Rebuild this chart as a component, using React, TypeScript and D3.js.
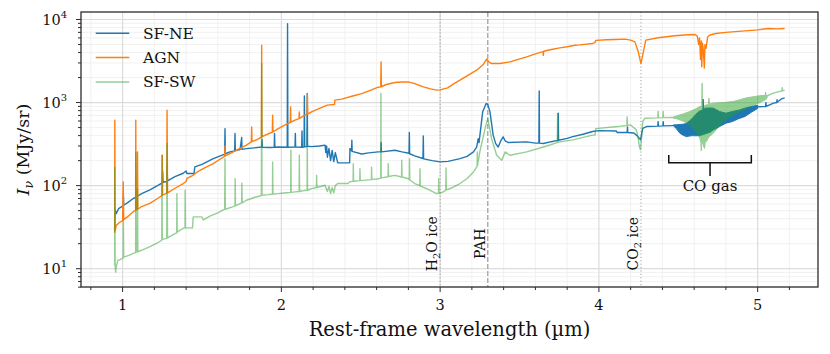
import * as d3 from "d3";

const W = 830;
const H = 354;
const M = { left: 81, right: 818, top: 12, bottom: 287 };
const FONT = "'DejaVu Serif', serif";

// [wavelength (µm), intensity (MJy/sr)]
const sfNE: [number, number][] = [
  [0.95, 38], [0.952, 52], [0.96, 46], [0.975, 53], [0.99, 55], [1.004, 58], [1.005, 75], [1.007, 58],
  [1.03, 62], [1.067, 70], [1.083, 72], [1.084, 100], [1.086, 73], [1.12, 80], [1.172, 89], [1.22, 100],
  [1.25, 108], [1.252, 150], [1.255, 110], [1.278, 112], [1.28, 170], [1.283, 114], [1.33, 128],
  [1.382, 141], [1.4, 150], [1.405, 140], [1.45, 140], [1.455, 168], [1.5, 180], [1.571, 211],
  [1.62, 230], [1.643, 240], [1.645, 486], [1.647, 242], [1.676, 255], [1.706, 262], [1.708, 424],
  [1.71, 264], [1.74, 272], [1.75, 380], [1.752, 273], [1.781, 279], [1.83, 285], [1.876, 292],
  [1.878, 360], [1.88, 290], [1.93, 288], [1.955, 290], [1.957, 424], [1.959, 290], [1.98, 292],
  [2.037, 290], [2.039, 8900], [2.041, 290], [2.086, 292], [2.088, 424], [2.09, 292], [2.128, 290],
  [2.13, 456], [2.132, 290], [2.143, 292], [2.145, 1205], [2.147, 294], [2.161, 295], [2.163, 1283],
  [2.165, 298], [2.19, 295], [2.24, 300], [2.275, 307], [2.28, 250], [2.285, 300], [2.29, 220],
  [2.3, 280], [2.31, 200], [2.32, 265], [2.33, 195], [2.34, 250], [2.355, 188], [2.43, 188],
  [2.432, 280], [2.442, 262], [2.444, 352], [2.446, 258], [2.506, 240], [2.55, 248], [2.61, 255],
  [2.627, 255], [2.628, 330], [2.63, 255], [2.715, 267], [2.76, 255], [2.804, 245], [2.806, 436],
  [2.808, 242], [2.84, 228], [2.892, 212], [2.894, 397], [2.896, 210], [2.95, 200], [3.0, 193],
  [3.05, 196], [3.125, 211], [3.17, 225], [3.21, 255], [3.23, 290], [3.24, 368], [3.245, 330],
  [3.268, 773], [3.29, 973], [3.3, 950], [3.314, 773], [3.334, 405], [3.35, 320], [3.366, 292],
  [3.38, 340], [3.397, 386], [3.41, 345], [3.43, 330], [3.545, 336], [3.6, 325], [3.622, 325],
  [3.624, 1384], [3.626, 325], [3.65, 321], [3.7, 338], [3.742, 350], [3.744, 745], [3.746, 352],
  [3.8, 370], [3.836, 389], [3.9, 415], [3.96, 448], [3.998, 460], [4.11, 455], [4.115, 436],
  [4.178, 436], [4.18, 509], [4.182, 436], [4.22, 430], [4.24, 400], [4.255, 370], [4.262, 356],
  [4.276, 490], [4.3, 514], [4.371, 520], [4.373, 590], [4.375, 520], [4.403, 524], [4.405, 590],
  [4.407, 524], [4.468, 528],
];
const sfNETail: [number, number][] = [
  [5.0, 890], [5.05, 895], [5.052, 1000], [5.054, 900], [5.1, 984], [5.12, 1000], [5.122, 1080],
  [5.124, 1010], [5.15, 1110], [5.17, 1140],
];
// CO gas band: [wavelength, low, high]
const sfNEBand: [number, number, number][] = [
  [4.468, 528, 538], [4.49, 480, 540], [4.51, 427, 545], [4.53, 405, 548], [4.55, 389, 560],
  [4.57, 395, 600], [4.59, 400, 650], [4.61, 398, 720], [4.63, 400, 780], [4.655, 410, 820],
  [4.657, 410, 1100], [4.659, 412, 830], [4.67, 420, 857], [4.7, 440, 860], [4.72, 469, 857],
  [4.74, 490, 820], [4.76, 514, 780], [4.8, 565, 745], [4.84, 590, 780], [4.88, 640, 810],
  [4.92, 680, 857], [4.96, 765, 895], [5.0, 850, 930],
];

const agn: [number, number][] = [
  [0.95, 27], [0.951, 614], [0.953, 29], [0.96, 33], [0.98, 36], [1.0, 38], [1.004, 111], [1.007, 39],
  [1.03, 42], [1.067, 48.6], [1.082, 50], [1.083, 614], [1.085, 51], [1.093, 52], [1.094, 255],
  [1.096, 52], [1.12, 56], [1.172, 61], [1.22, 70], [1.248, 76], [1.25, 232], [1.252, 77], [1.278, 81],
  [1.28, 809], [1.283, 82], [1.33, 93], [1.382, 106], [1.4, 112], [1.405, 122], [1.44, 132],
  [1.47, 146], [1.52, 165], [1.571, 184], [1.62, 212], [1.643, 225], [1.645, 300], [1.647, 228],
  [1.676, 243], [1.73, 275], [1.78, 307], [1.811, 336], [1.813, 509], [1.815, 338], [1.85, 360],
  [1.874, 384], [1.876, 4900], [1.878, 388], [1.93, 430], [1.943, 440], [1.945, 705], [1.947, 442],
  [1.98, 486], [2.03, 545], [2.056, 575], [2.058, 887], [2.06, 580], [2.086, 614], [2.111, 640],
  [2.113, 773], [2.115, 645], [2.14, 690], [2.162, 720], [2.164, 1270], [2.166, 725], [2.19, 773],
  [2.24, 850], [2.29, 931], [2.335, 950], [2.337, 1069], [2.38, 1099], [2.45, 1200], [2.506, 1283],
  [2.56, 1400], [2.61, 1530], [2.626, 1545], [2.628, 3090], [2.63, 1550], [2.66, 1650], [2.715, 1742],
  [2.76, 1770], [2.8, 1776], [2.84, 1693], [2.894, 1545], [2.94, 1460], [2.978, 1410], [3.0, 1420],
  [3.047, 1503], [3.085, 1680], [3.125, 1862], [3.18, 2150], [3.23, 2455], [3.27, 2850], [3.293, 3335],
  [3.31, 3050], [3.324, 2950], [3.377, 2950], [3.44, 3090], [3.545, 3550], [3.6, 3850], [3.648, 4100],
  [3.65, 3700], [3.652, 4150], [3.7, 4350], [3.754, 4560], [3.8, 4700], [3.849, 4900], [3.88, 4950],
  [3.96, 5150], [3.975, 5280], [3.98, 5600], [4.05, 5700], [4.1, 5750], [4.164, 5810], [4.2, 5650],
  [4.227, 5380], [4.248, 4080], [4.265, 2950], [4.28, 4080], [4.295, 5650], [4.373, 6030],
  [4.478, 6370], [4.56, 6550], [4.605, 6600], [4.62, 6300], [4.628, 5000], [4.634, 6000], [4.64, 3300],
  [4.645, 5500], [4.648, 2700], [4.652, 5200], [4.658, 4200], [4.664, 2600], [4.668, 5000],
  [4.675, 4500], [4.685, 6200], [4.7, 6500], [4.736, 6780], [4.8, 7000], [4.9, 7240], [5.0, 7500],
  [5.066, 7800], [5.12, 7700], [5.17, 7800],
];

const sfSW: [number, number][] = [
  [0.95, 11], [0.951, 167], [0.953, 10.5], [0.956, 9.1], [0.96, 10.6], [0.97, 12.5], [0.99, 13],
  [1.004, 13.5], [1.005, 38], [1.007, 13.8], [1.04, 14.5], [1.067, 15.3], [1.082, 15.6], [1.083, 250],
  [1.085, 15.8], [1.093, 16], [1.094, 90], [1.096, 16], [1.13, 17], [1.172, 18.4], [1.22, 20.5],
  [1.247, 22], [1.248, 232], [1.25, 22.5], [1.278, 23.2], [1.28, 321], [1.283, 23.5], [1.33, 26.5],
  [1.341, 27], [1.342, 80], [1.344, 27.5], [1.382, 30.7], [1.393, 31], [1.394, 88], [1.396, 31],
  [1.44, 31], [1.445, 42], [1.5, 42], [1.508, 38.7], [1.55, 43], [1.6, 47], [1.643, 52], [1.645, 211],
  [1.647, 52], [1.697, 56], [1.708, 57], [1.709, 121], [1.711, 57], [1.75, 62], [1.751, 107],
  [1.753, 62], [1.78, 66.7], [1.83, 72], [1.874, 76], [1.876, 2950], [1.878, 77], [1.92, 78],
  [1.944, 79], [1.945, 193], [1.947, 79], [1.98, 80], [2.03, 82], [2.059, 83], [2.06, 267], [2.062, 83],
  [2.086, 84], [2.112, 85], [2.113, 232], [2.115, 85], [2.14, 87], [2.162, 88], [2.163, 486],
  [2.165, 88], [2.19, 92], [2.221, 95], [2.222, 133], [2.224, 95], [2.275, 101], [2.29, 85], [2.3, 98],
  [2.31, 80], [2.32, 95], [2.33, 82], [2.34, 100], [2.355, 106], [2.42, 106], [2.43, 111], [2.452, 113],
  [2.453, 184], [2.455, 113], [2.494, 115], [2.495, 160], [2.497, 115], [2.567, 118], [2.568, 167],
  [2.57, 118], [2.61, 121], [2.626, 123], [2.627, 1283], [2.629, 124], [2.672, 128], [2.673, 184],
  [2.675, 129], [2.715, 133], [2.757, 127], [2.758, 202], [2.76, 127], [2.8, 121], [2.806, 118],
  [2.807, 211], [2.809, 117], [2.84, 106], [2.872, 100], [2.873, 160], [2.875, 99], [2.915, 92],
  [2.978, 80], [2.99, 81], [2.991, 121], [2.993, 81], [3.02, 84], [3.036, 88], [3.037, 163],
  [3.039, 89], [3.08, 95], [3.125, 106], [3.17, 122], [3.21, 146], [3.233, 170], [3.234, 255],
  [3.236, 175], [3.25, 255], [3.283, 486], [3.3, 640], [3.324, 368], [3.356, 232], [3.388, 202],
  [3.41, 255], [3.44, 232], [3.545, 255], [3.65, 292], [3.738, 330], [3.74, 738], [3.742, 332],
  [3.754, 336], [3.836, 356], [3.96, 405], [3.975, 405], [3.98, 486], [4.12, 514], [4.176, 530],
  [4.178, 673], [4.18, 530], [4.2, 538], [4.235, 470], [4.245, 400], [4.255, 295], [4.262, 270],
  [4.27, 400], [4.276, 590], [4.29, 648], [4.371, 655], [4.373, 780], [4.375, 655], [4.403, 658],
  [4.405, 780], [4.407, 658], [4.468, 660],
];
const sfSWTail: [number, number][] = [
  [5.06, 1200], [5.098, 1297], [5.153, 1380], [5.155, 1514], [5.157, 1385], [5.17, 1400],
];
const sfSWBand: [number, number, number][] = [
  [4.468, 650, 670], [4.489, 640, 690], [4.53, 600, 730], [4.573, 538, 780], [4.61, 450, 840],
  [4.636, 372, 895], [4.642, 330, 900], [4.645, 262, 900], [4.648, 330, 900], [4.65, 340, 1713],
  [4.652, 330, 900], [4.66, 300, 910], [4.665, 280, 920], [4.67, 340, 930], [4.678, 340, 936],
  [4.69, 380, 950], [4.693, 380, 1130], [4.696, 390, 955], [4.72, 427, 984], [4.75, 500, 990],
  [4.783, 590, 1000], [4.846, 711, 1030], [4.93, 857, 1140], [5.014, 1000, 1210], [5.048, 1080, 1220],
  [5.05, 1080, 1340], [5.052, 1090, 1225], [5.06, 1150, 1230],
];

const xMajor = [1, 2, 3, 4, 5];
const xMinor = d3.range(0.8, 5.3, 0.2).filter((v) => Math.abs(v - Math.round(v)) > 0.01);
const yMajor = [10, 100, 1000, 10000];
const yExp = ["1", "2", "3", "4"];
const yMinor = [6, 7, 8, 9, ...[1, 10, 100, 1000].flatMap((d) => d3.range(2, 10).map((k) => k * d * 10))].filter(
  (v) => !yMajor.includes(v) && v < 12300
);

const seriesNames = ["SF-NE", "AGN", "SF-SW"];
const seriesColors = ["#1f77b4", "#ff7f0e", "#2ca02c"];
const seriesAlpha = [1, 1, 0.5];

const features = [
  { x: 3.0, dash: "1.2,2.2", color: "#a0a0a0", width: 1 },
  { x: 3.3, dash: "5,2", color: "#a8a8a8", width: 1.4 },
  { x: 4.265, dash: "1.2,2.2", color: "#a0a0a0", width: 1 },
];
const featureLabelY = 20;
const coRange = [4.44, 4.96];
const coY = { line: 188, ends: 234, stem: 131, text: 86 };

export default function App() {
  const x = d3.scaleLinear().domain([0.738, 5.38]).range([M.left, M.right]);
  const y = d3.scaleLog().domain([6.02, 12310]).range([M.bottom, M.top]);
  const line = d3
    .line<[number, number]>()
    .x((d) => x(d[0]))
    .y((d) => y(d[1]));
  const band = d3
    .area<[number, number, number]>()
    .x((d) => x(d[0]))
    .y0((d) => y(d[1]))
    .y1((d) => y(d[2]));

  return (
    <svg width={W} height={H} style={{ position: "absolute", left: 0, top: 0 }} fontFamily={FONT}>
      <rect width={W} height={H} fill="white" />
      <defs>
        <clipPath id="plot">
          <rect x={M.left} y={M.top} width={M.right - M.left} height={M.bottom - M.top} />
        </clipPath>
      </defs>
      {/* grid */}
      <g>
        {xMinor.map((v) => (
          <line key={"gx" + v} x1={x(v)} x2={x(v)} y1={M.top} y2={M.bottom} stroke="#eeeeee" strokeWidth={0.8} />
        ))}
        {yMinor.map((v) => (
          <line key={"gy" + v} x1={M.left} x2={M.right} y1={y(v)} y2={y(v)} stroke="#eeeeee" strokeWidth={0.8} />
        ))}
        {xMajor.map((v) => (
          <line key={"Gx" + v} x1={x(v)} x2={x(v)} y1={M.top} y2={M.bottom} stroke="#dcdcdc" strokeWidth={1.2} />
        ))}
        {yMajor.map((v) => (
          <line key={"Gy" + v} x1={M.left} x2={M.right} y1={y(v)} y2={y(v)} stroke="#dcdcdc" strokeWidth={1.2} />
        ))}
      </g>
      {/* feature lines */}
      {features.map((f) => (
        <line
          key={"f" + f.x}
          x1={x(f.x)}
          x2={x(f.x)}
          y1={M.top}
          y2={M.bottom}
          stroke={f.color}
          strokeWidth={f.width}
          strokeDasharray={f.dash}
        />
      ))}
      {/* spectra */}
      <g clipPath="url(#plot)" fill="none" strokeWidth={1.4} strokeLinejoin="round">
        <g>
          <path d={band(sfNEBand) ?? ""} fill={seriesColors[0]} stroke={seriesColors[0]} strokeWidth={1} />
          <path d={line(sfNE) ?? ""} stroke={seriesColors[0]} />
          <path d={line(sfNETail) ?? ""} stroke={seriesColors[0]} />
        </g>
        <path d={line(agn) ?? ""} stroke={seriesColors[1]} />
        <g opacity={0.5}>
          <path d={band(sfSWBand) ?? ""} fill={seriesColors[2]} stroke={seriesColors[2]} strokeWidth={1} />
          <path d={line(sfSW) ?? ""} stroke={seriesColors[2]} />
          <path d={line(sfSWTail) ?? ""} stroke={seriesColors[2]} />
        </g>
      </g>
      {/* feature labels */}
      <g fontSize={14} fill="#111">
        <text transform={`translate(${x(3.0) - 3},${y(featureLabelY)}) rotate(-90)`} textAnchor="middle">
          H<tspan fontSize={10} dy={3}>2</tspan>
          <tspan dy={-3}>O ice</tspan>
        </text>
        <text transform={`translate(${x(3.3) - 3},${y(featureLabelY)}) rotate(-90)`} textAnchor="middle">
          PAH
        </text>
        <text transform={`translate(${x(4.265) - 3},${y(featureLabelY)}) rotate(-90)`} textAnchor="middle">
          CO<tspan fontSize={10} dy={3}>2</tspan>
          <tspan dy={-3}> ice</tspan>
        </text>
      </g>
      {/* CO gas bracket */}
      <g stroke="#111" strokeWidth={1.5} fill="none">
        <path d={`M${x(coRange[0])},${y(coY.ends)}V${y(coY.line)}H${x(coRange[1])}V${y(coY.ends)}`} />
        <line
          x1={x((coRange[0] + coRange[1]) / 2)}
          x2={x((coRange[0] + coRange[1]) / 2)}
          y1={y(coY.line)}
          y2={y(coY.stem)}
        />
      </g>
      <text x={x((coRange[0] + coRange[1]) / 2)} y={y(coY.text)} textAnchor="middle" fontSize={15} fill="#111">
        CO gas
      </text>
      {/* frame */}
      <rect
        x={M.left}
        y={M.top}
        width={M.right - M.left}
        height={M.bottom - M.top}
        fill="none"
        stroke="#2b2b2b"
        strokeWidth={1.3}
      />
      {/* ticks */}
      <g stroke="#2b2b2b" strokeWidth={1}>
        {xMajor.map((v) => (
          <line key={"tx" + v} x1={x(v)} x2={x(v)} y1={M.bottom} y2={M.bottom + 5} />
        ))}
        {xMinor.map((v) => (
          <line key={"tmx" + v} x1={x(v)} x2={x(v)} y1={M.bottom} y2={M.bottom + 3} />
        ))}
        {yMajor.map((v) => (
          <line key={"ty" + v} x1={M.left - 5} x2={M.left} y1={y(v)} y2={y(v)} />
        ))}
        {yMinor.map((v) => (
          <line key={"tmy" + v} x1={M.left - 3} x2={M.left} y1={y(v)} y2={y(v)} />
        ))}
      </g>
      <g fontSize={14.5} fill="#111">
        {xMajor.map((v) => (
          <text key={"lx" + v} x={x(v)} y={M.bottom + 23} textAnchor="middle">
            {v}
          </text>
        ))}
        {yMajor.map((v, i) => (
          <text key={"ly" + v} x={M.left - 14} y={y(v) + 5.5} textAnchor="end">
            10
            <tspan fontSize={10} dy={-7}>
              {yExp[i]}
            </tspan>
          </text>
        ))}
      </g>
      <text x={(M.left + M.right) / 2} y={336} textAnchor="middle" fontSize={19.5} fill="#111">
        Rest-frame wavelength (µm)
      </text>
      <text
        transform={`translate(29,${(M.top + M.bottom) / 2}) rotate(-90)`}
        textAnchor="middle"
        fontSize={17.5}
        fill="#111"
      >
        <tspan fontStyle="italic">I</tspan>
        <tspan fontStyle="italic" fontSize={12.5} dy={4}>
          ν
        </tspan>
        <tspan dy={-4}> (MJy/sr)</tspan>
      </text>
      {/* legend */}
      <g>
        {seriesNames.map((name, i) => (
          <g key={name} transform={`translate(0,${33.3 + i * 24.3})`}>
            <line
              x1={95.7}
              x2={129.3}
              y1={0}
              y2={0}
              stroke={seriesColors[i]}
              strokeOpacity={seriesAlpha[i]}
              strokeWidth={1.5}
            />
            <text x={143} y={5.5} fontSize={15.5} fill="#111">
              {name}
            </text>
          </g>
        ))}
      </g>
    </svg>
  );
}
